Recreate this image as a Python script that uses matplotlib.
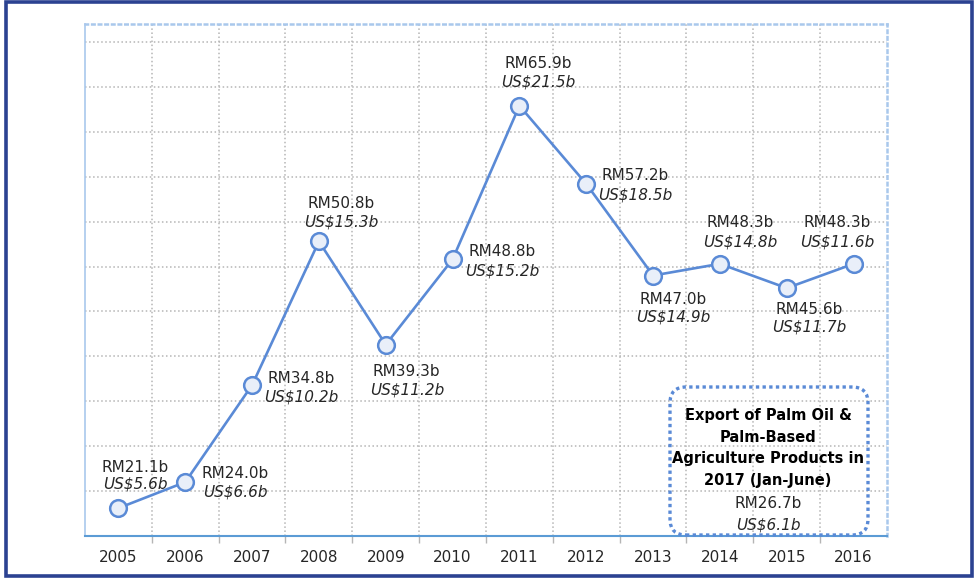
import matplotlib.pyplot as plt
from matplotlib.patches import FancyBboxPatch, Rectangle
from matplotlib.transforms import IdentityTransform

# Palm oil export values per year
years = ["2005", "2006", "2007", "2008", "2009", "2010",
         "2011", "2012", "2013", "2014", "2015", "2016"]
rm_values = [21.1, 24.0, 34.8, 50.8, 39.3, 48.8, 65.9, 57.2, 47.0, 48.3, 45.6, 48.3]
usd_values = [5.6, 6.6, 10.2, 15.3, 11.2, 15.2, 21.5, 18.5, 14.9, 14.8, 11.7, 11.6]

box_title = "Export of Palm Oil &\nPalm-Based\nAgriculture Products in\n2017 (Jan-June)"
box_rm = 26.7
box_usd = 6.1

# label offsets in pixels: (dx, dy of RM line, dy of US line)
label_offsets = [(17, 41, 24), (50, 9, -10), (49, 7, -12), (22, 38, 19),
                 (21, -27, -45), (50, 8, -12), (19, 42, 24), (49, 8, -11),
                 (20, -24, -41), (20, 41, 22), (22, -21, -39), (-16, 41, 22)]

line_blue = "#5A8AD6"
text_col = "#262626"
grid_col = "#B5B5B5"

plt.rcParams['font.family'] = ['DejaVu Sans']

fig = plt.figure(figsize=(9.78, 5.79), dpi=100)
ax = fig.add_axes([85 / 978, 1 - 536 / 579, 802 / 978, 512 / 579])

x = list(range(len(years)))
ax.plot(x, rm_values, color=line_blue, lw=1.9, marker="o", markersize=12,
        markerfacecolor="#E9EFF9", markeredgecolor=line_blue,
        markeredgewidth=1.8, zorder=3)

for i, (rm, usd) in enumerate(zip(rm_values, usd_values)):
    dx, dy1, dy2 = label_offsets[i]
    ax.annotate(f"RM{rm:.1f}b", (i, rm), xytext=(dx, dy1),
                textcoords="offset pixels", ha="center", va="center",
                fontsize=11, color=text_col, zorder=4)
    ax.annotate(f"US${usd:.1f}b", (i, rm), xytext=(dx, dy2),
                textcoords="offset pixels", ha="center", va="center",
                fontsize=11, style="italic", color=text_col, zorder=4)

ax.set_xlim(-0.5, len(years) - 0.5)
ax.set_ylim(18, 75)
ax.set_xticks(x)
ax.set_xticklabels(years, fontsize=11, color=text_col)
ax.set_xticks([i + 0.5 for i in range(len(years) - 1)], minor=True)
ax.set_yticks(range(23, 74, 5))
ax.tick_params(axis="x", which="major", length=0, pad=10)
ax.tick_params(axis="x", which="minor", length=5, color=grid_col, width=1)
ax.tick_params(axis="y", length=0, labelleft=False)

ax.grid(axis="y", which="major", color=grid_col, ls=":", lw=1.1)
ax.grid(axis="x", which="minor", color=grid_col, ls=":", lw=1.1)

ax.spines["bottom"].set_color("#5B9BD5")
ax.spines["bottom"].set_linewidth(1.5)
ax.spines["left"].set_color("#A9C8EC")
ax.spines["left"].set_linewidth(1.2)
for side in ["top", "right"]:
    ax.spines[side].set_color("#A9C8EC")
    ax.spines[side].set_linestyle(":")
    ax.spines[side].set_linewidth(1.8)

# dotted rounded box with the 2017 figure (transparent, grid shows through)
box = FancyBboxPatch((670, 579 - 535), 198, 148,
                     boxstyle="round,pad=0,rounding_size=16",
                     transform=IdentityTransform(), fill=False,
                     edgecolor=line_blue, ls=(0, (1, 1)), lw=2.4, zorder=5)
fig.patches.append(box)
fig.text(768 / 978, 1 - 448 / 579, box_title, ha="center", va="center",
         fontsize=10.5, fontweight="bold", color="black",
         linespacing=1.55, zorder=6)
fig.text(768 / 978, 1 - 504 / 579, f"RM{box_rm:.1f}b", ha="center",
         va="center", fontsize=11, color=text_col, zorder=6)
fig.text(768 / 978, 1 - 525 / 579, f"US${box_usd:.1f}b", ha="center",
         va="center", fontsize=11, style="italic", color=text_col, zorder=6)

# outer frame
frame = Rectangle((6, 3), 966, 574, transform=IdentityTransform(),
                  fill=False, edgecolor="#2B4291", lw=2.6, zorder=10)
fig.patches.append(frame)

fig.savefig("out.png", dpi=100)
